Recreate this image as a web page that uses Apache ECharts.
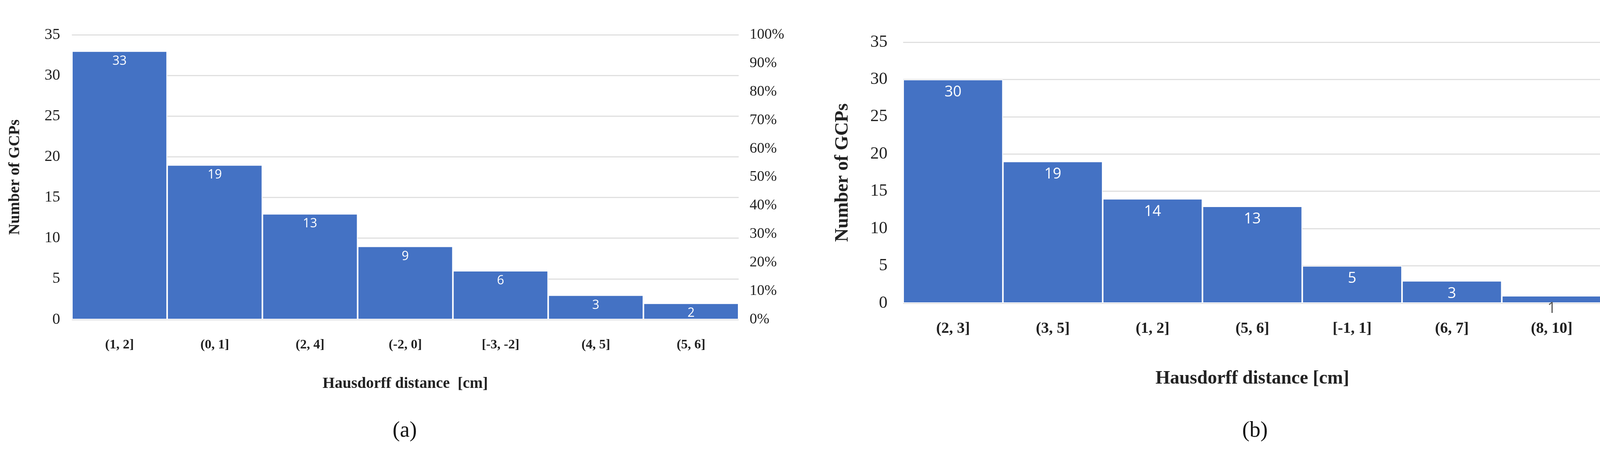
<!DOCTYPE html>
<html><head><meta charset="utf-8">
<script src="https://cdn.jsdelivr.net/npm/echarts@6/dist/echarts.min.js"></script>
<style>html,body{margin:0;padding:0;background:#fff}#c{width:4313px;height:1175px}</style>
</head><body><div id="c"></div>
<script>
const categoriesA = ['(1, 2]','(0, 1]','(2, 4]','(-2, 0]','[-3, -2]','(4, 5]','(5, 6]'];
const valuesA = [33,19,13,9,6,3,2];
const categoriesB = ['(2, 3]','(3, 5]','(1, 2]','(5, 6]','[-1, 1]','(6, 7]','(8, 10]'];
const valuesB = [30,19,14,13,5,3,1];
const xTitle = ['Hausdorff distance  [cm]','Hausdorff distance [cm]'];
const yTitle = 'Number of GCPs';
const panelLabels = ['(a)','(b)'];

const serif = 'Liberation Serif';
const grids = [
  {left:184, right:2422, top:89, bottom:357, outerBoundsMode:'none', containLabel:false},
  {left:2312, right:213, top:108, bottom:399, outerBoundsMode:'none', containLabel:false}
];
function xAxis(i, cats){
  return {type:'category', gridIndex:i, data:cats,
    axisLine:{lineStyle:{color:'#d9d9d9'}}, axisTick:{show:false},
    axisLabel:{color:'#222', fontFamily:serif, fontWeight:'bold', fontSize:i?40:34, margin:i?46:48},
    name:xTitle[i], nameLocation:'middle', nameGap:i?170:145,
    nameTextStyle:{color:'#222', fontFamily:serif, fontWeight:'bold', fontSize:i?48:40}};
}
function yAxes(i){
  return [
    {type:'value', gridIndex:i, min:0, max:35, interval:5,
      axisLine:{show:false}, axisTick:{show:false},
      splitLine:{lineStyle:{color:'#e0e0e0', width:3}},
      axisLabel:{color:'#222', fontFamily:serif, fontSize:i?44:40, margin:i?40:30},
      name:yTitle, nameLocation:'middle', nameGap:i?130:125,
      nameTextStyle:{color:'#222', fontFamily:serif, fontWeight:'bold', fontSize:i?48:40}},
    {type:'value', gridIndex:i, position:'right', min:0, max:100, interval:10,
      axisLine:{show:false}, axisTick:{show:false}, splitLine:{show:false},
      axisLabel:{color:'#222', fontFamily:serif, fontSize:i?40:38, margin:i?70:28, formatter:'{value}%'}}
  ];
}
function series(i, vals){
  return {type:'bar', xAxisIndex:i, yAxisIndex:i*2, data:vals.map((v,k)=>({value:v,
      label:(i===1 && k===vals.length-1)?{color:'#555'}:{}})),
    barCategoryGap:'0%', itemStyle:{color:'#4472C4', borderColor:'#ffffff', borderWidth:2},
    label:{show:true, position:'insideTop', color:'#fff', fontFamily:'Open Sans', fontSize:i?38:32, distance:i?14:10}};
}
const chart = echarts.init(document.getElementById('c'));
const ya = yAxes(0), yb = yAxes(1);
chart.setOption({
  animation:false,
  grid:grids,
  xAxis:[xAxis(0,categoriesA), xAxis(1,categoriesB)],
  yAxis:[ya[0], ya[1], yb[0], yb[1]],
  series:[series(0,valuesA), series(1,valuesB)],
  graphic:[
    {type:'text', left:1005, top:1075, style:{text:panelLabels[0], font:'56px "Liberation Serif"', fill:'#111'}},
    {type:'text', left:3180, top:1075, style:{text:panelLabels[1], font:'56px "Liberation Serif"', fill:'#111'}}
  ]
});
</script></body></html>
